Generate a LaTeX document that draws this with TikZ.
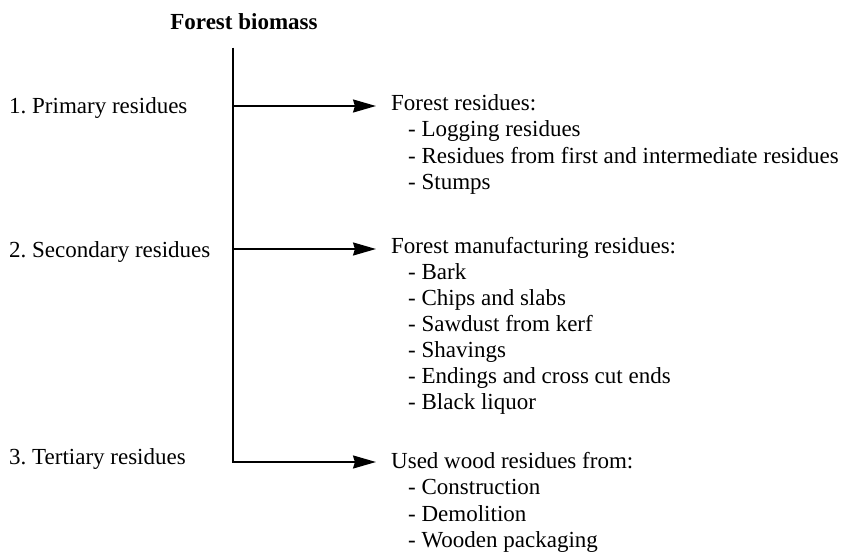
\documentclass[tikz,border=0pt]{standalone}
\usepackage{fontspec}
\setmainfont{Liberation Serif}
\frenchspacing
\usetikzlibrary{arrows.meta}
\begin{document}
\begin{tikzpicture}[x=1pt,y=-1pt,
  lbl/.style={anchor=base west,inner sep=0pt,font=\fontsize{23}{26}\selectfont},
  ttl/.style={anchor=base,inner sep=0pt,font=\fontsize{23}{26}\selectfont\bfseries},
  conn/.style={line width=2pt,line cap=butt},
  arr/.style={conn,-{Stealth[length=23pt,width=13pt,inset=2pt]}}]
\useasboundingbox (0,0) rectangle (860,557);
% title
\node[ttl] (title) at (244,29) {Forest biomass};
% left labels
\node[lbl] (l1) at (9,113) {1. Primary residues};
\node[lbl] (l2) at (9,257) {2. Secondary residues};
\node[lbl] (l3) at (9,464) {3. Tertiary residues};
% primary list
\node[lbl] (p0) at (391,110) {Forest residues:};
\node[lbl] (p1) at (408,136.5) {- Logging residues};
\node[lbl] (p2) at (408,163) {- Residues from first and intermediate residues};
\node[lbl] (p3) at (408,189.5) {- Stumps};
% secondary list
\node[lbl] (s0) at (391,253) {Forest manufacturing residues:};
\node[lbl] (s1) at (408,279) {- Bark};
\node[lbl] (s2) at (408,305) {- Chips and slabs};
\node[lbl] (s3) at (408,331) {- Sawdust from kerf};
\node[lbl] (s4) at (408,357) {- Shavings};
\node[lbl] (s5) at (408,383) {- Endings and cross cut ends};
\node[lbl] (s6) at (408,409) {- Black liquor};
% tertiary list
\node[lbl] (t0) at (391,468) {Used wood residues from:};
\node[lbl] (t1) at (408,494.5) {- Construction};
\node[lbl] (t2) at (408,521) {- Demolition};
\node[lbl] (t3) at (408,547.5) {- Wooden packaging};
% connectors
\coordinate (top) at (232.5,47.5);
\coordinate (j1) at (232.5,106);
\coordinate (j2) at (232.5,249);
\coordinate (tip1) at (376,106);
\coordinate (tip2) at (376,249);
\coordinate (tip3) at (376,462);
\draw[arr,line join=miter] (top) |- (tip3);
\draw[arr] (j1) -- (tip1);
\draw[arr] (j2) -- (tip2);
\end{tikzpicture}
\end{document}
